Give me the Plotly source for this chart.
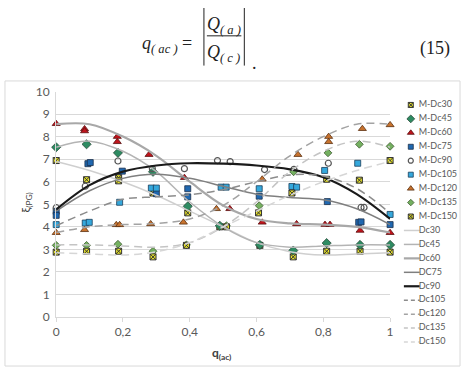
import plotly.graph_objects as go

W, H = 466, 374

# ---------------- data ----------------
m_names = ["M-Dc30", "M-Dc45", "M-Dc60", "M-Dc75", "M-Dc90",
           "M-Dc105", "M-Dc120", "M-Dc135", "M-Dc150"]

m30_q = [0, 0.091, 0.187, 0.187, 0.29, 0.394, 0.49, 0.61, 0.71, 0.81, 0.91, 1]
m30_v = [6.94, 6.09, 6.18, 6.04, 5.5, 4.62, 4.0, 3.18, 2.67, 2.92, 2.92, 2.88]
m45_q = [0, 0.091, 0.185, 0.29, 0.394, 0.49, 0.61, 0.71, 0.81, 0.91, 1]
m45_v = [7.53, 7.66, 7.28, 6.44, 4.91, 4.05, 3.2, 2.95, 3.28, 3.2, 3.2]
m60_q = [0, 0.085, 0.085, 0.183, 0.183, 0.278, 0.384, 0.52, 0.617, 0.72, 0.805, 0.82, 0.91, 1]
m60_v = [8.57, 8.34, 8.25, 8.0, 7.77, 7.2, 6.18, 4.8, 4.2, 4.13, 4.1, 4.1, 3.84, 3.74]
m75_q = [0, 0, 0.095, 0.102, 0.198, 0.3, 0.394, 0.394, 0.608, 0.812, 0.906, 0.913, 1]
m75_v = [4.69, 4.51, 6.8, 6.85, 6.47, 5.47, 5.69, 5.33, 5.36, 5.12, 4.2, 4.22, 4.1]
m90_q = [0, 0.087, 0.185, 0.288, 0.384, 0.483, 0.521, 0.624, 0.712, 0.815, 0.913, 0.922]
m90_v = [4.85, 5.8, 6.92, 6.58, 6.58, 6.94, 6.89, 6.54, 6.55, 6.82, 4.86, 4.86]
m105_q = [0, 0.087, 0.099, 0.19, 0.285, 0.3, 0.494, 0.509, 0.608, 0.706, 0.72, 0.804, 0.903, 1]
m105_v = [4.1, 4.17, 4.2, 5.09, 5.72, 5.72, 5.76, 5.76, 5.69, 5.79, 5.76, 6.5, 6.82, 4.55]
m120_q = [0, 0.085, 0.18, 0.19, 0.283, 0.381, 0.48, 0.617, 0.724, 0.816, 0.816, 0.917, 1]
m120_v = [3.74, 3.87, 4.09, 4.09, 4.13, 4.2, 4.8, 6.11, 7.2, 7.77, 8.0, 8.35, 8.52]
m135_q = [0, 0.091, 0.185, 0.29, 0.39, 0.51, 0.608, 0.711, 0.814, 0.908, 1]
m135_v = [3.18, 3.18, 3.23, 2.92, 3.2, 4.05, 4.94, 6.44, 7.28, 7.66, 7.57]
m150_q = [0, 0.091, 0.187, 0.29, 0.39, 0.51, 0.606, 0.706, 0.81, 0.908, 1]
m150_v = [2.88, 2.92, 2.92, 2.67, 3.18, 4.0, 4.62, 5.5, 6.11, 6.07, 6.94]

c_names = ["Dc30", "Dc45", "Dc60", "DC75", "Dc90",
           "Dc105", "Dc120", "Dc135", "Dc150"]
c_q = [0, 0.1, 0.2, 0.3, 0.4, 0.5, 0.6, 0.7, 0.8, 0.9, 1]
c30 = [6.9, 6.5, 6.0, 5.4, 4.7, 4.0, 3.3, 2.9, 2.75, 2.8, 2.85]
c45 = [7.53, 7.8, 7.35, 6.45, 5.1, 4.0, 3.3, 3.1, 3.15, 3.2, 3.2]
c60 = [8.55, 8.55, 8.0, 7.15, 6.0, 4.95, 4.35, 4.15, 4.1, 4.0, 3.75]
c75 = [4.7, 5.6, 6.15, 6.33, 6.15, 5.8, 5.45, 5.3, 5.2, 4.8, 4.1]
c90 = [4.77, 5.85, 6.45, 6.72, 6.82, 6.8, 6.72, 6.55, 6.2, 5.45, 4.35]
c105 = [4.05, 4.7, 5.22, 5.33, 5.42, 5.65, 6.0, 6.3, 6.25, 5.7, 4.6]
c120 = [3.75, 4.0, 4.1, 4.15, 4.35, 4.95, 6.0, 7.15, 8.0, 8.55, 8.55]
c135 = [3.2, 3.2, 3.15, 3.1, 3.3, 4.0, 5.1, 6.45, 7.35, 7.8, 7.53]
c150 = [2.85, 2.8, 2.75, 2.9, 3.3, 4.0, 4.7, 5.4, 6.0, 6.5, 6.9]

y_ticks = list(range(0, 11))
x_ticks = [0, 0.2, 0.4, 0.6, 0.8, 1]
x_ticktext = ["0", "0,2", "0,4", "0,6", "0,8", "1"]

# ---------------- styles ----------------
m_data = [(m30_q, m30_v), (m45_q, m45_v), (m60_q, m60_v), (m75_q, m75_v),
          (m90_q, m90_v), (m105_q, m105_v), (m120_q, m120_v),
          (m135_q, m135_v), (m150_q, m150_v)]
m_style = [
    dict(symbol="square-x", color="#e6e22a", size=6, line=dict(color="#333333", width=1)),
    dict(symbol="diamond", color="#2e8b62", size=7, line=dict(color="#2a4a3a", width=0.8)),
    dict(symbol="triangle-up", color="#c0141c", size=7, line=dict(color="#5a1010", width=0.8)),
    dict(symbol="square", color="#2068b0", size=6, line=dict(color="#1a2f4a", width=0.8)),
    dict(symbol="circle-open", color="#555555", size=6, line=dict(color="#555555", width=1.2)),
    dict(symbol="square", color="#35a8dc", size=6, line=dict(color="#1a3f5a", width=0.8)),
    dict(symbol="triangle-up", color="#c8732e", size=7, line=dict(color="#5a3010", width=0.8)),
    dict(symbol="diamond", color="#74b060", size=6, line=dict(color="#3e5a30", width=0.8)),
    dict(symbol="square-x", color="#e6e22a", size=6, line=dict(color="#333333", width=1)),
]
c_data = [c30, c45, c60, c75, c90, c105, c120, c135, c150]
c_style = [
    dict(color="#cfcfcf", width=1.5, dash="solid"),
    dict(color="#b4b4b4", width=1.5, dash="solid"),
    dict(color="#a8a8a8", width=2.2, dash="solid"),
    dict(color="#7f7f7f", width=1.5, dash="solid"),
    dict(color="#1a1a1a", width=2.2, dash="solid"),
    dict(color="#8c8c8c", width=1.5, dash="8px,5px"),
    dict(color="#a3a3a3", width=1.5, dash="8px,5px"),
    dict(color="#c4c4c4", width=1.5, dash="8px,5px"),
    dict(color="#d6d6d6", width=1.5, dash="8px,5px"),
]

fig = go.Figure()

for name, (q, v), st in zip(m_names, m_data, m_style):
    fig.add_trace(go.Scatter(x=q, y=v, mode="markers", name=name, marker=st,
                             cliponaxis=False, showlegend=False))
for name, v, st in zip(c_names, c_data, c_style):
    fig.add_trace(go.Scatter(x=c_q, y=v, mode="lines", name=name,
                             line=dict(shape="spline", smoothing=1.0, **st),
                             showlegend=False))

# ---------------- manual legend (own axes) ----------------
leg_font = dict(family="Lato, 'Open Sans', sans-serif", size=9, color="#595959")
all_names = m_names + c_names
for i, (name, st) in enumerate(zip(m_names, m_style)):
    s = dict(st)
    s["size"] = max(5, st["size"] - 1)
    fig.add_trace(go.Scatter(x=[14], y=[i], mode="markers", marker=s,
                             xaxis="x2", yaxis="y2", showlegend=False,
                             cliponaxis=False, hoverinfo="skip"))
for j, (name, st) in enumerate(zip(c_names, c_style)):
    i = len(m_names) + j
    fig.add_trace(go.Scatter(x=[7, 23], y=[i, i], mode="lines",
                             line=dict(color=st["color"], width=st["width"],
                                       dash="4px,3px" if st["dash"] != "solid" else "solid"),
                             xaxis="x2", yaxis="y2", showlegend=False,
                             cliponaxis=False, hoverinfo="skip"))
fig.add_trace(go.Scatter(x=[22] * len(all_names), y=list(range(len(all_names))),
                         mode="text", text=all_names, textposition="middle right",
                         textfont=leg_font, xaxis="x2", yaxis="y2",
                         showlegend=False, cliponaxis=False, hoverinfo="skip"))


def px_x(x):
    return x / W


def px_y(y):
    return 1 - y / H


tick_font = dict(family="Lato, 'Open Sans', sans-serif", size=12, color="#595959")
grid_c = "#d9d9d9"

fig.update_layout(
    width=W, height=H,
    margin=dict(l=0, r=0, t=0, b=0),
    paper_bgcolor="white", plot_bgcolor="white",
    xaxis=dict(domain=[px_x(54), px_x(393)], range=[0, 1], tickvals=x_ticks,
               ticktext=x_ticktext, showgrid=False, zeroline=False,
               showline=True, linecolor=grid_c, linewidth=1,
               ticks="outside", ticklen=4, tickcolor=grid_c,
               tickfont=tick_font, fixedrange=True),
    yaxis=dict(domain=[px_y(322), px_y(87)], range=[0, 10], tickvals=y_ticks,
               showgrid=True, gridcolor=grid_c, gridwidth=1, zeroline=False,
               showline=True, linecolor=grid_c, linewidth=1,
               ticks="", tickfont=tick_font, ticklabelstandoff=3, fixedrange=True),
    xaxis2=dict(domain=[px_x(400), px_x(466)], range=[0, 66], visible=False,
                fixedrange=True, anchor="y2"),
    yaxis2=dict(domain=[px_y(355.3), px_y(93.7)], range=[17.5, -0.5], visible=False,
                fixedrange=True, anchor="x2"),
    showlegend=False,
)


def ann(x, y, text, font, angle=0):
    fig.add_annotation(x=px_x(x), y=px_y(y), xref="paper", yref="paper",
                       xanchor="center", yanchor="middle", text=text,
                       showarrow=False, font=font, textangle=angle)


# axis titles
ax_font = dict(family="Lato, 'Open Sans', sans-serif", size=12, color="#404040")
ann(222, 360, "<b>q<sub>(ac)</sub></b>", ax_font)
ann(24, 203, "ξ<sub>(PG)</sub>", ax_font, angle=-90)

# chart border
fig.add_shape(type="rect", xref="paper", yref="paper",
              x0=px_x(2), x1=px_x(464), y0=px_y(373), y1=px_y(76),
              line=dict(color="#d9d9d9", width=1), fillcolor="rgba(0,0,0,0)")

# equation (15)
eq_font = dict(family="'Liberation Serif', 'DejaVu Serif', serif", size=18, color="#222222")
ann(166, 38, "<i>q</i><sub><i>( ac )</i></sub> =", eq_font)
ann(224, 18, "<i>Q</i><sub><i>( a )</i></sub>", eq_font)
ann(224, 47, "<i>Q</i><sub><i>( c )</i></sub>", eq_font)
ann(255, 57, ".", eq_font)
ann(439, 42, "(15)", eq_font)
fig.add_shape(type="line", xref="paper", yref="paper",
              x0=px_x(207), x1=px_x(242), y0=px_y(29), y1=px_y(29),
              line=dict(color="#222222", width=1))
for bx in (204, 245):
    fig.add_shape(type="line", xref="paper", yref="paper",
                  x0=px_x(bx), x1=px_x(bx), y0=px_y(0), y1=px_y(60),
                  line=dict(color="#222222", width=1))

fig.write_html("out.html")
